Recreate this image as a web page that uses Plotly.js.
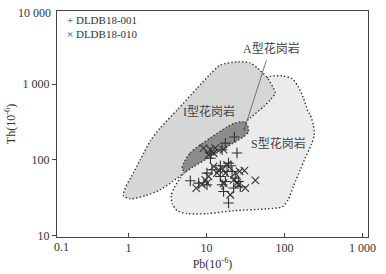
<!DOCTYPE html>
<html>
<head>
<meta charset="utf-8">
<script src="https://cdn.plot.ly/plotly-3.0.1.min.js"></script>
<style>html,body{margin:0;padding:0;background:#fff;}#chart{width:386px;height:274px;}</style>
</head>
<body>
<div id="chart"></div>
<script>
// Sample DLDB18-001 (+)
const pbPlus = [22.7, 17.4, 24.5, 11.2, 15.8, 11.2, 19.1, 20.6, 15.0, 11.7, 10.1, 18.3, 21.2, 6.18, 15.0, 17.4, 15.8, 16.5, 23.3, 25.7, 22.2, 19.1, 10.1, 7.9, 27.0];
const thPlus = [200, 166, 123, 123, 136, 105, 90.5, 83.3, 83.3, 73.8, 66.7, 70.0, 70.0, 52.8, 60.2, 51.7, 46.8, 38.1, 57.3, 51.7, 42.3, 26.8, 46.8, 49.2, 44.0];
// Sample DLDB18-010 (x)
const pbCross = [9.15, 11.2, 12.9, 16.5, 10.6, 12.3, 18.3, 14.3, 13.6, 17.4, 23.3, 30.5, 26.5, 10.6, 9.62, 10.1, 8.73, 7.38, 22.2, 24.5, 25.7, 31.3, 42.1, 20.1, 16.5, 15.8, 12.3];
const thCross = [143, 136, 143, 136, 116, 81.6, 85.9, 73.8, 66.7, 66.7, 66.7, 72.0, 70.5, 60.2, 54.4, 49.2, 46.8, 42.3, 54.4, 49.2, 46.8, 42.3, 53.3, 34.5, 49.2, 76.8, 123];

// Field outlines
const iFieldPb = [0.855, 0.934, 1.083, 1.41, 1.90, 2.55, 4.21, 7.60, 11.2, 15.0, 24.8, 36.3, 44.7, 60.0, 71.6, 76.0, 65.6, 53.3, 36.3, 20.1, 9.62, 5.33, 3.63, 2.55, 1.64, 1.05, 0.855];
const iFieldTh = [33.5, 45.4, 59.6, 100, 178, 265, 458, 893, 1368, 1799, 1972, 1911, 1641, 1211, 893, 767, 620, 501, 359, 214, 116, 69.4, 51.2, 40.2, 33.5, 30.5, 33.5];

const sFieldPb = [31.3, 46.0, 61.8, 93.4, 126, 150, 174, 201, 213, 233, 240, 220, 184, 159, 129, 111, 93.4, 60.0, 22.0, 10.2, 5.66, 4.21, 3.63, 3.52, 3.85, 4.60, 5.49, 11.2, 31.3];
const sFieldTh = [327, 841, 1248, 1288, 1175, 920, 659, 430, 393, 290, 214, 158, 106, 73.8, 44.0, 29.6, 23.9, 22.5, 21.2, 19.4, 19.4, 21.2, 26.2, 33.5, 42.7, 57.8, 73.8, 136, 327];

const aFieldPb = [5.03, 6.18, 11.2, 18.4, 23.3, 28.7, 33.3, 34.3, 29.5, 18.4, 11.2, 6.75, 5.33, 4.87, 5.03];
const aFieldTh = [88.5, 124, 195, 273, 308, 318, 290, 234, 201, 149, 110, 80.8, 69.4, 76.0, 88.5];

const xTickVals = [1, 10, 100, 1000];
const xTickText = ['1', '10', '100', '1 000'];
const yTickVals = [10, 100, 1000];
const yTickText = ['10', '100', '1 000'];

const fieldNames = ['S型花岗岩', 'I型花岗岩', 'A型花岗岩'];
const labelPb = [83, 10.8, 67.5];
const labelTh = [163, 431, 2924];
const legendNames = ['DLDB18-001', 'DLDB18-010'];

const ink = '#333';
const serif = 'Liberation Serif, Times New Roman, Noto Sans CJK SC, serif';

function field(pb, th, color) {
  return {x: pb, y: th, type: 'scatter', mode: 'lines', fill: 'toself', fillcolor: color,
    line: {color: '#333', width: 1.4, dash: '1.4px,2.2px', shape: 'spline', smoothing: 0.7},
    hoverinfo: 'skip', showlegend: false};
}

const traces = [
  field(sFieldPb, sFieldTh, '#ebebeb'),
  field(iFieldPb, iFieldTh, '#d6d6d6'),
  field(aFieldPb, aFieldTh, '#8c8c8c'),
  {x: pbPlus, y: thPlus, type: 'scatter', mode: 'markers', name: legendNames[0], showlegend: false,
   marker: {symbol: 'cross-thin-open', size: 7.5, color: ink, line: {color: ink, width: 1.1}}},
  {x: pbCross, y: thCross, type: 'scatter', mode: 'markers', name: legendNames[1], showlegend: false,
   marker: {symbol: 'x-thin-open', size: 7.5, color: ink, line: {color: ink, width: 1.1}}}
];

const annotations = [
  {xref: 'x', yref: 'y', x: Math.log10(labelPb[0]), y: Math.log10(labelTh[0]), text: fieldNames[0], showarrow: false, font: {family: serif, size: 12, color: '#444'}},
  {xref: 'x', yref: 'y', x: Math.log10(labelPb[1]), y: Math.log10(labelTh[1]), text: fieldNames[1], showarrow: false, font: {family: serif, size: 12, color: '#444'}},
  {xref: 'x', yref: 'y', x: Math.log10(labelPb[2]), y: Math.log10(labelTh[2]), text: fieldNames[2], showarrow: false, font: {family: serif, size: 12, color: '#444'}},
  {xref: 'x', yref: 'y', x: Math.log10(30.0), y: Math.log10(241), ax: 23, ay: -72, text: '', showarrow: true,
   arrowhead: 2, arrowsize: 0.7, arrowwidth: 0.8, arrowcolor: '#555'},
  {xref: 'paper', yref: 'paper', x: 0.016, y: 0, yshift: -10, yanchor: 'middle', xanchor: 'center', text: '0.1', showarrow: false, font: {family: serif, size: 12, color: ink}},
  {xref: 'paper', yref: 'paper', x: 0, xshift: -4, y: 1, yshift: -2, xanchor: 'right', yanchor: 'middle', text: '10 000', showarrow: false, font: {family: serif, size: 12, color: ink}},
  {xref: 'paper', yref: 'paper', x: 0.025, y: 0.96, xanchor: 'left', yanchor: 'middle', text: '+ ' + legendNames[0], showarrow: false, font: {family: serif, size: 11, color: ink}},
  {xref: 'paper', yref: 'paper', x: 0.025, y: 0.898, xanchor: 'left', yanchor: 'middle', text: '× ' + legendNames[1], showarrow: false, font: {family: serif, size: 11, color: ink}}
];

const layout = {
  width: 386, height: 274,
  margin: {l: 57, r: 18, t: 11, b: 37},
  paper_bgcolor: '#fff', plot_bgcolor: '#fff',
  font: {family: serif, size: 12, color: ink},
  showlegend: false,
  xaxis: {type: 'log', range: [-0.918, 3.069], tickvals: xTickVals, ticktext: xTickText,
    ticks: 'inside', ticklen: 4, tickcolor: '#444', showline: true, mirror: true, linecolor: '#444', linewidth: 1,
    showgrid: false, zeroline: false, tickfont: {family: serif, size: 12, color: ink},
    title: {text: 'Pb(10<sup>-6</sup>)', font: {family: serif, size: 12, color: ink}, standoff: 5}},
  yaxis: {type: 'log', range: [0.979, 3.968], tickvals: yTickVals, ticktext: yTickText,
    ticks: 'outside', ticklen: 4, tickcolor: '#444', showline: true, mirror: true, linecolor: '#444', linewidth: 1,
    showgrid: false, zeroline: false, tickfont: {family: serif, size: 12, color: ink},
    title: {text: 'Th(10<sup>-6</sup>)', font: {family: serif, size: 12, color: ink}, standoff: 4}},
  annotations: annotations
};

Plotly.newPlot('chart', traces, layout, {displayModeBar: false, staticPlot: true});
</script>
</body>
</html>
